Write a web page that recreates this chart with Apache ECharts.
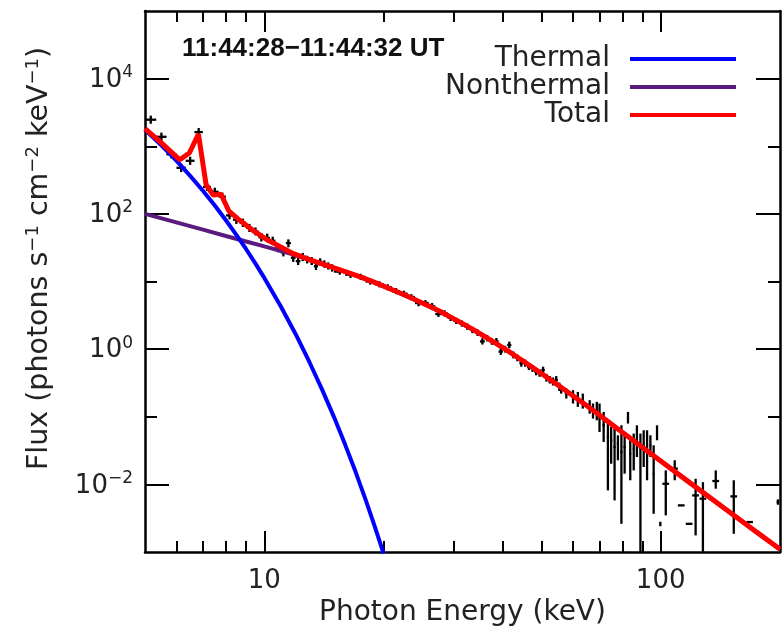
<!DOCTYPE html>
<html><head><meta charset="utf-8">
<script src="https://cdn.jsdelivr.net/npm/echarts@6/dist/echarts.min.js"></script>
<style>html,body{margin:0;padding:0;background:#fff}#c{width:784px;height:641px}</style>
</head><body><div id="c"></div>
<script>
// ---- tick values and labels ----
const xTickMajor = [10, 100];
const xTickMinor = [6, 7, 8, 9, 20, 30, 40, 50, 60, 70, 80, 90];
const xTickLabels = ['10', '100'];
const yTickMajor = [1e-2, 1, 1e2, 1e4];
const yTickMinor = [1e-1, 1e1, 1e3];
const yTickExponents = ['−2', '0', '2', '4'];

// ---- model curves (photon energy keV, flux) ----
const thermalEnergy = [5, 5.5, 6, 6.5, 7, 7.5, 8, 8.5, 9, 9.5, 10, 11, 12, 13, 14, 15, 16, 17, 18, 19, 20];
const thermalFlux = [1750, 1030, 611, 365, 220, 133, 80.5, 49, 30, 18.4, 11.3, 4.3, 1.66, 0.64, 0.25, 0.098, 0.0384, 0.0152, 0.0060, 0.00238, 0.00095];

const nonthermalEnergy = [5, 6, 7, 8, 9, 10, 11.8, 14.3, 17.4, 21.1, 25.6, 31, 33.6, 40.7, 49.4, 55.6, 65, 80, 100, 120, 150, 200];
const nonthermalFlux = [100, 74.7, 58.4, 47.1, 39, 33, 25.3, 17.3, 11.7, 7.45, 4.52, 2.54, 1.95, 0.98, 0.456, 0.282, 0.147, 0.059, 0.0222, 0.010, 0.0038, 0.0011];

const totalEnergy = [5, 5.5, 6.12, 6.47, 6.82, 7.13, 7.43, 7.78, 8.13, 8.65, 9.44, 10.2, 11, 11.8, 13, 14.3, 16, 17.4, 19, 21.1, 23, 25.6, 28, 31, 33.6, 37, 40.7, 45, 49.4, 55.6, 65, 80, 100, 120, 150, 175, 200];
const totalFlux = [1820, 1120, 630, 795, 1510, 270, 190, 195, 111, 81, 55, 41, 32.4, 26, 21.1, 17.5, 14.0, 11.8, 9.7, 7.5, 6.05, 4.54, 3.53, 2.55, 1.96, 1.39, 0.984, 0.668, 0.458, 0.282, 0.147, 0.059, 0.0222, 0.0100, 0.0038, 0.00195, 0.0011];

// ---- observed points: [energy, bin half-width, flux, flux low, flux high] ----
const observedPoints = [
  [5.17,0.167,2470,2150,2840],[5.50,0.167,1380,1200,1590],[5.83,0.167,760,660,875],
  [6.17,0.167,480,415,550],[6.50,0.167,610,530,700],[6.83,0.167,1620,1410,1860],
  [7.17,0.167,250,218,288],[7.50,0.167,212,184,244],[7.83,0.167,180,157,207],
  [8.17,0.167,95,83,109],[8.50,0.167,82,71,94],[8.83,0.167,74,64,85],
  [9.17,0.167,62,54,71],[9.50,0.167,55,48,63],[9.83,0.167,45,39,52],
  [10.17,0.167,44,38,51],[10.50,0.167,40,35,46],[10.83,0.167,31,27,36],
  [11.17,0.167,27,23.5,31],[11.50,0.167,37,32,42],[11.83,0.167,22.5,19.5,26],
  [12.17,0.167,20,17.5,23],[12.50,0.167,23,20,26.5],[12.83,0.167,21,18.5,24],
  [13.17,0.167,20,17.5,23],[13.50,0.167,16.8,14.8,19],[13.83,0.167,19.6,17.3,22],
  [14.17,0.167,18,16,20.5],[14.50,0.167,17,15,19.2],[14.83,0.167,16,14,18],
  [15.5,0.5,14,12.6,15.5],[16.5,0.5,12.6,11.3,14],[17.5,0.5,11.7,10.5,13],
  [18.5,0.5,10,9,11.1],[19.5,0.5,9.1,8.2,10.1],[20.5,0.5,8.2,7.4,9.1],
  [21.5,0.5,7.2,6.5,8],[22.5,0.5,6.6,5.9,7.3],[23.5,0.5,5.9,5.3,6.5],
  [24.5,0.5,4.8,4.3,5.3],[25.5,0.5,4.8,4.3,5.3],[26.5,0.5,4.3,3.9,4.8],
  [27.5,0.5,3.3,3.0,3.7],[28.5,0.5,3.4,3.05,3.75],[29.5,0.5,2.9,2.6,3.2],
  [30.5,0.5,2.6,2.35,2.9],[31.5,0.5,2.4,2.15,2.65],[32.5,0.5,2.15,1.93,2.4],
  [33.5,0.5,1.92,1.72,2.14],[34.5,0.5,1.75,1.57,1.95],[35.5,0.5,1.3,1.17,1.45],
  [36.5,0.5,1.45,1.3,1.62],[37.5,0.5,1.3,1.16,1.45],[38.5,0.5,1.3,1.16,1.46],
  [39.5,0.5,0.92,0.82,1.03],[40.5,0.5,1.0,0.89,1.12],[41.5,0.5,1.15,1.03,1.29],
  [42.5,0.5,0.82,0.73,0.92],[43.5,0.5,0.74,0.66,0.83],[44.5,0.5,0.62,0.55,0.7],
  [45.5,0.5,0.62,0.55,0.7],[46.5,0.5,0.55,0.49,0.62],[47.5,0.5,0.52,0.46,0.58],
  [48.5,0.5,0.46,0.41,0.52],[49.5,0.5,0.44,0.39,0.5],[50.5,0.5,0.49,0.43,0.55],
  [51.5,0.5,0.38,0.33,0.43],[52.5,0.5,0.35,0.31,0.4],[53.5,0.5,0.33,0.29,0.38],
  [54.5,0.5,0.35,0.3,0.4],[55.5,0.5,0.28,0.24,0.32],
  [56.1,0.5,0.256,0.220,0.293],[57.8,0.5,0.220,0.186,0.261],[60.1,0.5,0.197,0.157,0.247],
  [61.8,0.5,0.176,0.140,0.233],[63.6,0.5,0.172,0.132,0.220],[66.2,0.5,0.140,0.111,0.176],
  [67.5,0.5,0.122,0.094,0.157],[69.0,0.5,0.118,0.0887,0.166],[70.1,0.5,0.0995,0.0596,0.157],
  [71.8,0.5,0.0748,0.0424,0.118],[73.6,0.5,0.0502,0.00815,0.0793],[75.0,0.5,0.0449,0.0202,0.0708],
  [76.5,0.5,0.0357,0.00579,0.0708],[78.0,0.5,0.0401,0.0227,0.0532],[79.6,0.5,0.0301,0.00261,0.0748],
  [81.1,0.5,0.0357,0.0144,0.0564],[82.7,0.5,0.0973,0.0793,0.118],[83.8,0.5,0.0284,0.0115,0.0502],
  [85.5,0.5,0.0338,0.0161,0.0564],[87.1,0.5,0.0449,0.0254,0.0748],[88.9,0.5,0.0338,0.0009,0.0564],
  [90.6,0.5,0.0357,0.0181,0.0631],[92.4,0.5,0.0301,0.0115,0.0631],[94.2,0.5,0.0378,0.0254,0.0532],
  [96.0,0.5,0.0144,0.00367,0.0378],[97.9,0.5,0.0583,0.0449,0.0748],[99.8,0.3,0.00261,0.0024,0.0028],
  [103,2,0.0102,0.00348,0.0161],[108.5,2,0.0171,0.0115,0.0227],[112.7,2.2,0.00489,0.00489,0.00489],
  [118,2.3,0.00261,0.00261,0.00261],[122.5,2.4,0.00687,0.00176,0.0121],[127.8,2.5,0.00614,0.0009,0.0108],
  [137.7,2.7,0.0112,0.00863,0.0161],[152.9,3,0.00664,0.00186,0.0115],[167.7,3.2,0.00277,0.00277,0.00277],
  [197.6,1.5,0.00547,0.0050,0.0060]
];

const legendNames = ['Thermal', 'Nonthermal', 'Total'];
const timeLabel = '11:44:28−11:44:32 UT';
const xAxisTitle = 'Photon Energy (keV)';

const FONT = 'DejaVu Sans';
const TXT = '#222';

function pairs(xs, ys) { return xs.map((x, i) => [x, ys[i]]); }
function idxOf(arr, v) {
  let best = -1, bd = Infinity;
  arr.forEach((a, i) => { const d = Math.abs(Math.log10(a) - Math.log10(v)); if (d < bd) { bd = d; best = i; } });
  return bd < 0.01 ? best : -1;
}

function xAxisDef(pos, ticks, len, withLine, withLabel) {
  return {
    type: 'log', logBase: 10, min: 5, max: 200, position: pos,
    axisLine: { show: withLine, onZero: false, lineStyle: { color: '#000', width: 2.5 } },
    axisTick: { show: true, inside: true, length: len, customValues: ticks, lineStyle: { color: '#000', width: 2 } },
    axisLabel: withLabel ? {
      show: true, customValues: xTickMajor, margin: 16, fontSize: 26, fontFamily: FONT, color: TXT,
      formatter: v => { const i = idxOf(xTickMajor, v); return i >= 0 ? xTickLabels[i] : ''; }
    } : { show: false },
    splitLine: { show: false }, minorTick: { show: false }, minorSplitLine: { show: false }
  };
}
function yAxisDef(pos, ticks, len, withLine, withLabel) {
  return {
    type: 'log', logBase: 10, min: 1e-3, max: 1e5, position: pos,
    axisLine: { show: withLine, onZero: false, lineStyle: { color: '#000', width: 2.5 } },
    axisTick: { show: true, inside: true, length: len, customValues: ticks, lineStyle: { color: '#000', width: 2 } },
    axisLabel: withLabel ? {
      show: true, customValues: yTickMajor, margin: 12, color: TXT,
      formatter: v => { const i = idxOf(yTickMajor, v); return i >= 0 ? '{b|10}{s|' + yTickExponents[i] + '}' : ''; },
      rich: {
        b: { fontSize: 26, fontFamily: FONT, color: TXT, verticalAlign: 'bottom' },
        s: { fontSize: 17, fontFamily: FONT, color: TXT, verticalAlign: 'top', padding: [0, 0, 12, 0] }
      }
    } : { show: false },
    splitLine: { show: false }, minorTick: { show: false }, minorSplitLine: { show: false }
  };
}

const xAxes = [
  xAxisDef('bottom', xTickMajor, 21, true, true),
  xAxisDef('bottom', xTickMinor, 11, false, false),
  xAxisDef('top', xTickMajor, 21, true, false),
  xAxisDef('top', xTickMinor, 11, false, false)
];
Object.assign(xAxes[0], {
  name: xAxisTitle, nameLocation: 'middle', nameGap: 38,
  nameTextStyle: { fontSize: 28, fontFamily: FONT, color: TXT }
});
const yAxes = [
  yAxisDef('left', yTickMajor, 24, true, true),
  yAxisDef('left', yTickMinor, 12, false, false),
  yAxisDef('right', yTickMajor, 24, true, false),
  yAxisDef('right', yTickMinor, 12, false, false)
];
Object.assign(yAxes[0], {
  name: '{b|Flux (photons s}{s|−1}{b| cm}{s|−2}{b| keV}{s|−1}{b|)}',
  nameLocation: 'middle', nameGap: 91, nameRotate: 90,
  nameTextStyle: {
    padding: [0, 0, 0, 46],
    rich: {
      b: { fontSize: 28.5, fontFamily: FONT, color: TXT, verticalAlign: 'bottom' },
      s: { fontSize: 18, fontFamily: FONT, color: TXT, verticalAlign: 'top', padding: [0, 0, 12, 0] }
    }
  }
});

const chart = echarts.init(document.getElementById('c'), null, { renderer: 'canvas' });
chart.setOption({
  animation: false,
  backgroundColor: '#fff',
  grid: { left: 145, top: 11, width: 635, height: 541, containLabel: false },
  title: {
    text: timeLabel, left: 182, top: 36, padding: 0,
    textStyle: { fontFamily: 'Liberation Sans', fontWeight: 'bold', fontSize: 26, color: '#111' }
  },
  legend: {
    data: legendNames, orient: 'vertical', right: 48, top: 45, align: 'right',
    icon: 'rect', itemWidth: 106, itemHeight: 4, itemGap: 0, padding: 0, selectedMode: false,
    textStyle: { fontSize: 28, fontFamily: FONT, color: TXT, padding: [0, 15, 0, 0] }
  },
  xAxis: xAxes,
  yAxis: yAxes,
  series: [
    {
      type: 'custom', name: 'Data', xAxisIndex: 0, yAxisIndex: 0, clip: true, z: 1,
      encode: { x: 0, y: 2 },
      data: observedPoints,
      renderItem: (params, api) => {
        const e = api.value(0), de = api.value(1), f = api.value(2), fl = api.value(3), fh = api.value(4);
        const pl = api.coord([e - de, f]), pr = api.coord([e + de, f]);
        const pt = api.coord([e, fh]), pb = api.coord([e, fl]);
        const st = { stroke: '#000', lineWidth: 2.3 };
        return { type: 'group', children: [
          { type: 'line', shape: { x1: pl[0], y1: pl[1], x2: pr[0], y2: pr[1] }, style: st },
          { type: 'line', shape: { x1: pt[0], y1: pt[1], x2: pb[0], y2: pb[1] }, style: st }
        ]};
      }
    },
    {
      type: 'line', name: 'Nonthermal', data: pairs(nonthermalEnergy, nonthermalFlux), symbol: 'none', clip: true, z: 2,
      itemStyle: { color: '#5a1a7e' }, lineStyle: { color: '#5a1a7e', width: 4 }
    },
    {
      type: 'line', name: 'Thermal', data: pairs(thermalEnergy, thermalFlux), symbol: 'none', clip: true, z: 3,
      itemStyle: { color: '#0000ff' }, lineStyle: { color: '#0000ff', width: 4 }
    },
    {
      type: 'line', name: 'Total', data: pairs(totalEnergy, totalFlux), symbol: 'none', clip: true, z: 4,
      itemStyle: { color: '#ff0000' }, lineStyle: { color: '#ff0000', width: 5 }
    }
  ]
});
</script>
</body></html>
